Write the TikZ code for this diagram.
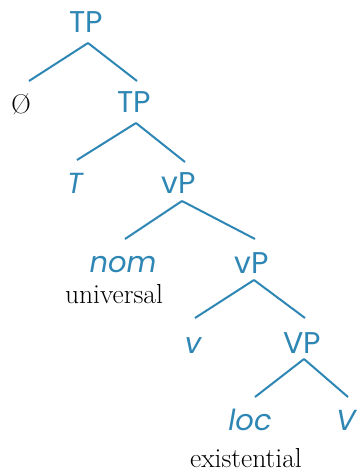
\documentclass[tikz,border=0pt]{standalone}
\usepackage{fontspec}
\usetikzlibrary{calc}
\newfontfamily\labelfont{Poppins}
\definecolor{treeblue}{RGB}{46,134,180}
\tikzset{
  cat/.style={font=\labelfont\fontsize{30}{30}\selectfont, text=treeblue, anchor=base, inner sep=0pt},
  head/.style={cat, font=\labelfont\itshape\fontsize{29}{29}\selectfont},
  gloss/.style={font=\fontsize{27.5}{27.5}\selectfont, text=black, anchor=base, inner sep=0pt},
  edge/.style={draw=treeblue, line width=2pt}
}
\begin{document}
\begin{tikzpicture}[x=1pt,y=-1pt]
  \useasboundingbox (0,0) rectangle (356,471);
  % labels (placed on their baselines)
  \node[cat]  (tp1)  at (86,32)   {TP};
  \node[gloss,font=\fontsize{27}{27}\selectfont] (null) at (21,113) {\O};
  \node[cat]  (tp2)  at (134,112) {TP};
  \node[head] (t)    at (75,193)  {T};
  \node[cat]  (vp1)  at (179,193) {vP};
  \node[head] (nom)  at (123,272) {nom};
  \node[gloss] (univ) at (114,303) {universal};
  \node[cat]  (vp2)  at (252,273) {vP};
  \node[head] (lv)   at (193,353) {v};
  \node[cat]  (VP)   at (302,353) {VP};
  \node[head] (loc)  at (250,430) {loc};
  \node[head] (V)    at (346,430) {V};
  \node[gloss] (exist) at (246,467) {existential};
  % branches
  \draw[edge] ($(tp1.base)+(2,11)$) -- ($(null.base)+(8,-32)$);
  \draw[edge] ($(tp1.base)+(2,11)$) -- ($(tp2.base)+(3,-31)$);
  \draw[edge] ($(tp2.base)+(2,11)$) -- ($(t.base)+(2,-33)$);
  \draw[edge] ($(tp2.base)+(2,11)$) -- ($(vp1.base)+(6,-31)$);
  \draw[edge] ($(vp1.base)+(3,8)$) -- ($(nom.base)+(2,-33)$);
  \draw[edge] ($(vp1.base)+(3,8)$) -- ($(vp2.base)+(3,-34)$);
  \draw[edge] ($(vp2.base)+(2,7)$) -- ($(lv.base)+(2,-35)$);
  \draw[edge] ($(vp2.base)+(2,7)$) -- ($(VP.base)+(3,-35)$);
  \draw[edge] ($(VP.base)+(2,6)$) -- ($(loc.base)+(5,-33)$);
  \draw[edge] ($(VP.base)+(2,6)$) -- ($(V.base)+(2,-33)$);
\end{tikzpicture}
\end{document}
